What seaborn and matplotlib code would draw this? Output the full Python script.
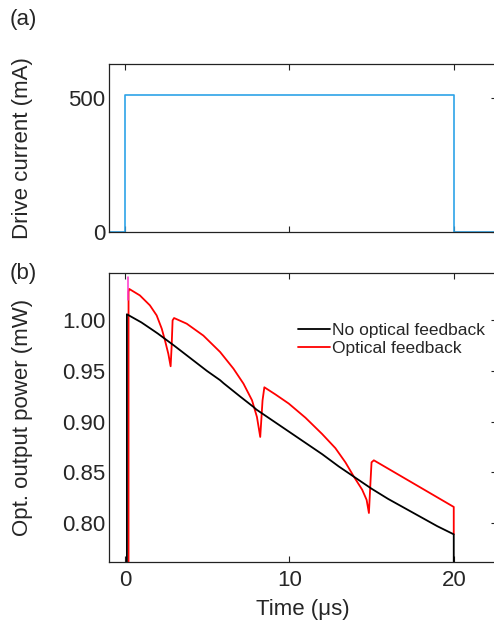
import numpy as np
import pandas as pd
import matplotlib
matplotlib.use("Agg")
import matplotlib.pyplot as plt
import seaborn as sns

# ---- data ----
t_current = [-0.95, 0.0, 0.0, 20.0, 20.0, 22.6]
current_mA = [0, 0, 510, 510, 0, 0]

t_nofb = [0.12, 0.12, 1.0, 1.73, 2.0, 3.0, 3.76, 4.0, 5.0, 5.79, 6.0, 7.0, 7.82,
          8.0, 9.0, 10.0, 11.0, 12.0, 13.0, 14.0, 15.0, 16.0, 17.0, 18.0, 19.0,
          20.0, 20.0]
p_nofb = [0.762, 1.006, 0.998, 0.990, 0.987, 0.975, 0.9655, 0.9625, 0.950, 0.941,
          0.938, 0.925, 0.9146, 0.912, 0.901, 0.890, 0.879, 0.868, 0.856, 0.845,
          0.834, 0.824, 0.815, 0.806, 0.797, 0.789, 0.762]

t_fb = [0.22, 0.22, 0.26, 0.91, 1.52, 1.93, 2.24, 2.44, 2.64, 2.78,
        2.84, 2.90, 2.99,
        3.76, 4.77, 5.79, 6.6, 7.21, 7.73, 8.03, 8.23,
        8.37, 8.48,
        9.15, 9.96, 10.98, 11.99, 12.8, 13.41, 13.92, 14.43, 14.7, 14.84,
        14.94, 15.0, 15.14,
        20.0, 20.0]
p_fb = [0.762, 1.028, 1.031, 1.0246, 1.0148, 1.0049, 0.9918, 0.980, 0.967, 0.9547,
        0.974, 1.000, 1.0023,
        0.9967, 0.985, 0.9688, 0.9524, 0.9376, 0.9212, 0.9047, 0.885,
        0.921, 0.934,
        0.927, 0.918, 0.904, 0.888, 0.874, 0.860, 0.846, 0.833, 0.823, 0.810,
        0.842, 0.860, 0.862,
        0.816, 0.789]

t_spike = [0.2, 0.2]
p_spike = [1.020, 1.043]

labels = ["No optical feedback", "Optical feedback"]

# ---- style ----
sns.set_style("ticks")
plt.rcParams["font.family"] = ["Liberation Sans", "DejaVu Sans"]
plt.rcParams["axes.linewidth"] = 0.9
plt.rcParams["axes.edgecolor"] = "#222222"

W, H = 494, 621
fig = plt.figure(figsize=(W / 100, H / 100), dpi=100)

def box(l, t, r, b):
    return [l / W, 1 - b / H, (r - l) / W, (b - t) / H]

L, R = 109.3, 496.5
ax1 = fig.add_axes(box(L, 64.3, R, 232.3))
ax2 = fig.add_axes(box(L, 272.7, R, 561.7))

fs = 16

# panel (a)
sns.lineplot(x=t_current, y=current_mA, ax=ax1, color="#2ea3e8", lw=1.2,
             sort=False, estimator=None)
ax1.set_xlim(-0.95, 22.6)
ax1.set_ylim(0, 625)
ax1.set_yticks([0, 500])
ax1.set_xticks([0, 10, 20])
ax1.set_xticklabels([])
ax1.set_ylabel("Drive current (mA)", fontsize=fs)

# panel (b)
sns.lineplot(x=t_fb, y=p_fb, ax=ax2, color="#ff0000", lw=1.3,
             sort=False, estimator=None, label=labels[1])
sns.lineplot(x=t_spike, y=p_spike, ax=ax2, color="#ff33cc", lw=1.1,
             sort=False, estimator=None)
sns.lineplot(x=t_nofb, y=p_nofb, ax=ax2, color="#000000", lw=1.3,
             sort=False, estimator=None, label=labels[0])
ax2.set_xlim(-0.95, 22.6)
ax2.set_ylim(0.762, 1.047)
ax2.set_yticks([0.80, 0.85, 0.90, 0.95, 1.00])
ax2.set_yticklabels(["0.80", "0.85", "0.90", "0.95", "1.00"])
ax2.set_xticks([0, 10, 20])
ax2.set_xlabel("Time (μs)", fontsize=fs, labelpad=6)
ax2.set_ylabel("Opt. output power (mW)", fontsize=fs)

# y-label placement (right edge of rotated label at ~x=33 px)
lx = (33 - L) / (R - L)
ax1.yaxis.set_label_coords(lx, 0.5)
ax2.yaxis.set_label_coords(lx, 0.5)

handles, labs = ax2.get_legend_handles_labels()
order = [labs.index(labels[0]), labs.index(labels[1])]
ax2.legend([handles[i] for i in order], [labs[i] for i in order],
           loc="upper left", bbox_to_anchor=(0.488, 0.826), frameon=False,
           fontsize=12.5, handlelength=1.85, handletextpad=0.1,
           labelspacing=0.15, borderpad=0, borderaxespad=0)

for ax in (ax1, ax2):
    for s in ax.spines.values():
        s.set_visible(True)
    ax.tick_params(axis="both", which="both", direction="in", length=4,
                   width=0.8, top=True, right=True, labelsize=fs,
                   color="#222222")
    ax.tick_params(axis="y", left=False, pad=3)
    ax.tick_params(axis="x", pad=6)

fig.text(10 / W, 1 - 20 / H, "(a)", fontsize=fs, va="center", ha="left")
fig.text(10 / W, 1 - 274 / H, "(b)", fontsize=fs, va="center", ha="left")

fig.savefig("out.png", dpi=100)
